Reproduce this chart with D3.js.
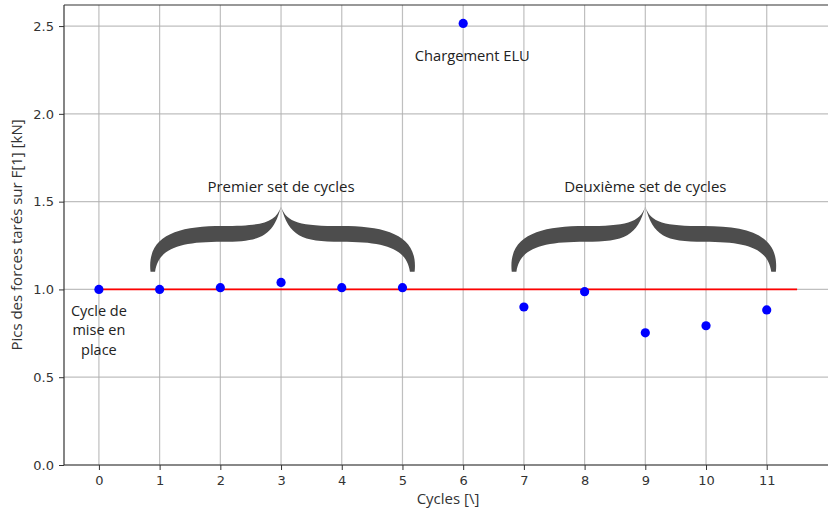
<!DOCTYPE html>
<html>
<head>
<meta charset="utf-8">
<script src="https://cdn.jsdelivr.net/npm/d3@7"></script>
<style>
  body { margin: 0; background: #fff; }
  svg { display: block; }
</style>
</head>
<body>
<svg id="chart" width="828" height="513"></svg>
<script>
// data
var cycles = [0, 1, 2, 3, 4, 5, 6, 7, 8, 9, 10, 11];
var peaks = [1.0, 1.0, 1.01, 1.04, 1.01, 1.01, 2.515, 0.90, 0.987, 0.753, 0.793, 0.883];
var refLine = [[0, 1.0], [11.5, 1.0]];
var xTicks = [0, 1, 2, 3, 4, 5, 6, 7, 8, 9, 10, 11];
var yTicks = [0.0, 0.5, 1.0, 1.5, 2.0, 2.5];
var braces = [
  { from: 0.85, to: 5.2, mid: 3, label: "Premier set de cycles" },
  { from: 6.8, to: 11.15, mid: 9, label: "Deuxième set de cycles" }
];

var svg = d3.select("#chart");
var plotLeft = 64, plotTop = 5, plotRight = 832, plotBottom = 465;

var x = d3.scaleLinear().domain([-0.575, 12.075]).range([plotLeft, plotRight]);
var y = d3.scaleLinear().domain([0, 2.62]).range([plotBottom, plotTop]);

// grid
svg.append("g").selectAll("line").data(xTicks).enter().append("line")
  .attr("x1", function(d) { return x(d); }).attr("x2", function(d) { return x(d); })
  .attr("y1", plotTop).attr("y2", plotBottom)
  .attr("stroke", "#b0b0b0").attr("stroke-width", 1.2).attr("opacity", 0.8);
svg.append("g").selectAll("line").data(yTicks).enter().append("line")
  .attr("x1", plotLeft).attr("x2", plotRight)
  .attr("y1", function(d) { return y(d); }).attr("y2", function(d) { return y(d); })
  .attr("stroke", "#b0b0b0").attr("stroke-width", 1.2).attr("opacity", 0.8);

// axes
var xAxis = d3.axisBottom(x).tickValues(xTicks).tickSize(5).tickPadding(6).tickFormat(d3.format("d"));
var yAxis = d3.axisLeft(y).tickValues(yTicks).tickSize(5).tickPadding(5).tickFormat(d3.format(".1f"));

var gx = svg.append("g").attr("transform", "translate(0," + plotBottom + ")").call(xAxis);
var gy = svg.append("g").attr("transform", "translate(" + plotLeft + ",0)").call(yAxis);
[gx, gy].forEach(function(g) {
  g.select(".domain").remove();
  g.selectAll(".tick line").attr("stroke", "#333").attr("stroke-width", 1);
  g.selectAll(".tick text").attr("fill", "#333")
    .style("font-family", "DejaVu Sans").style("font-size", "13px");
});

// spines
svg.append("line").attr("x1", plotLeft).attr("x2", plotLeft).attr("y1", plotTop).attr("y2", plotBottom)
  .attr("stroke", "#333").attr("stroke-width", 1.2);
svg.append("line").attr("x1", plotLeft).attr("x2", plotRight).attr("y1", plotBottom).attr("y2", plotBottom)
  .attr("stroke", "#333").attr("stroke-width", 1.2);
svg.append("line").attr("x1", plotLeft).attr("x2", plotRight).attr("y1", plotTop).attr("y2", plotTop)
  .attr("stroke", "#333").attr("stroke-width", 1.2);

// red reference line
svg.append("path").datum(refLine)
  .attr("d", d3.line().x(function(d) { return x(d[0]); }).y(function(d) { return y(d[1]); }))
  .attr("stroke", "#ff0000").attr("stroke-width", 1.8).attr("fill", "none");

// points
svg.append("g").selectAll("circle").data(cycles).enter().append("circle")
  .attr("cx", function(d) { return x(d); })
  .attr("cy", function(d, i) { return y(peaks[i]); })
  .attr("r", 4.6).attr("fill", "#0000ff");

// braces
function halfBrace(x0, xm, y0, yb) {
  var w = xm - x0, h = yb - y0;
  var p = d3.path();
  p.moveTo(x0, yb);
  p.bezierCurveTo(x0 - 0.03 * w, y0 + 0.45 * h, x0 + 0.2 * w, y0 + 0.3 * h, x0 + 0.55 * w, y0 + 0.3 * h);
  p.bezierCurveTo(x0 + 0.85 * w, y0 + 0.3 * h, xm - 0.04 * w, y0 + 0.25 * h, xm, y0);
  p.bezierCurveTo(xm - 0.06 * w, y0 + 0.45 * h, x0 + 0.85 * w, y0 + 0.54 * h, x0 + 0.55 * w, y0 + 0.54 * h);
  p.bezierCurveTo(x0 + 0.22 * w, y0 + 0.54 * h, x0 + 0.06 * w, y0 + 0.64 * h, x0 + 0.035 * w, yb);
  p.closePath();
  return p.toString();
}
var braceTop = y(1.33) - 25, braceBottom = y(1.1);
braces.forEach(function(b) {
  svg.append("path").attr("d", halfBrace(x(b.from), x(b.mid), braceTop, braceBottom)).attr("fill", "#4d4d4d");
  svg.append("path").attr("d", halfBrace(x(b.to), x(b.mid), braceTop, braceBottom)).attr("fill", "#4d4d4d");
  svg.append("text").attr("x", x(b.mid)).attr("y", y(1.5) - 14)
    .attr("text-anchor", "middle").attr("dominant-baseline", "middle")
    .style("font-family", "Open Sans").style("font-size", "15px").attr("fill", "#222")
    .text(b.label);
});

// annotations
svg.append("text").attr("x", x(6.15)).attr("y", y(2.32) - 1)
  .attr("text-anchor", "middle").attr("dominant-baseline", "middle")
  .style("font-family", "Open Sans").style("font-size", "14.7px").attr("fill", "#222")
  .text("Chargement ELU");
var note = svg.append("text").attr("text-anchor", "middle")
  .style("font-family", "Open Sans").style("font-size", "14.5px").attr("fill", "#222");
["Cycle de", "mise en", "place"].forEach(function(t, i) {
  note.append("tspan").attr("x", x(0)).attr("y", y(0.89) + 3 + i * 19.5)
    .attr("dominant-baseline", "middle").text(t);
});

// axis labels
svg.append("text").attr("x", 448).attr("y", 500)
  .attr("text-anchor", "middle").attr("dominant-baseline", "middle")
  .style("font-family", "Open Sans").style("font-size", "15px").attr("fill", "#333")
  .text("Cycles [\\]");
svg.append("text").attr("transform", "translate(18," + ((plotTop + plotBottom) / 2) + ") rotate(-90)")
  .attr("text-anchor", "middle").attr("dominant-baseline", "middle")
  .style("font-family", "Open Sans").style("font-size", "15px").attr("fill", "#333")
  .text("Pics des forces tarés sur F[1] [kN]");
</script>
</body>
</html>
